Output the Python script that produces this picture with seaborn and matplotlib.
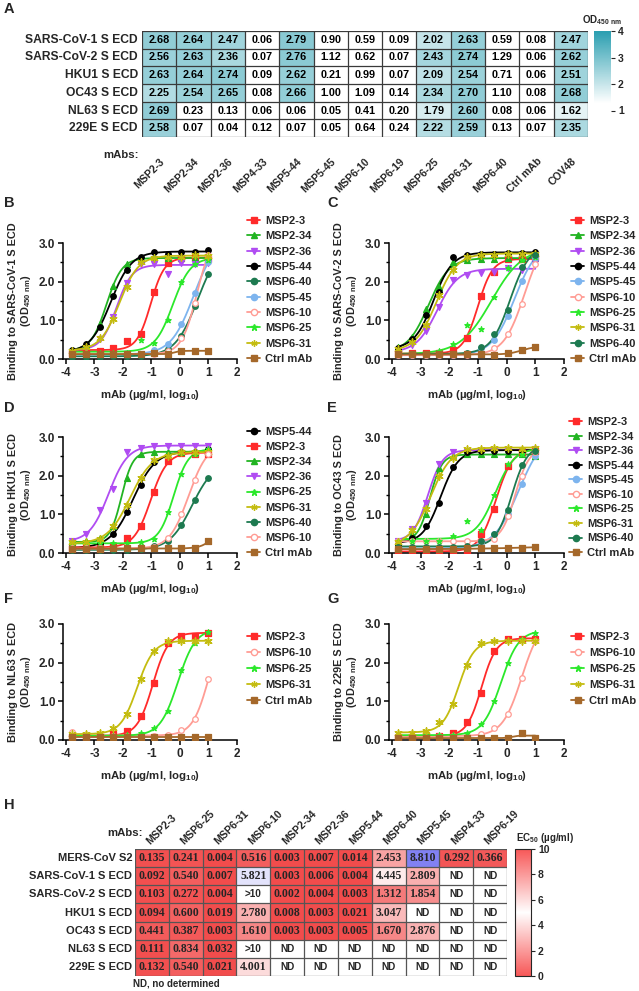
import numpy as np
import pandas as pd
import matplotlib
matplotlib.use("Agg")
import matplotlib.pyplot as plt
import seaborn as sns
from matplotlib.colors import LinearSegmentedColormap, Normalize
from matplotlib.cm import ScalarMappable
from matplotlib.lines import Line2D

# ---------------- DATA ----------------
# Panel A: OD450 heatmap
A_rows = ['SARS-CoV-1 S ECD', 'SARS-CoV-2 S ECD', 'HKU1 S ECD', 'OC43 S ECD', 'NL63 S ECD', '229E S ECD']
A_cols = ['MSP2-3', 'MSP2-34', 'MSP2-36', 'MSP4-33', 'MSP5-44', 'MSP5-45', 'MSP6-10',
          'MSP6-19', 'MSP6-25', 'MSP6-31', 'MSP6-40', 'Ctrl mAb', 'COV48']
A_sars1 = [2.68, 2.64, 2.47, 0.06, 2.79, 0.90, 0.59, 0.09, 2.02, 2.63, 0.59, 0.08, 2.47]
A_sars2 = [2.56, 2.63, 2.36, 0.07, 2.76, 1.12, 0.62, 0.07, 2.43, 2.74, 1.29, 0.06, 2.62]
A_hku1 = [2.63, 2.64, 2.74, 0.09, 2.62, 0.21, 0.99, 0.07, 2.09, 2.54, 0.71, 0.06, 2.51]
A_oc43 = [2.25, 2.54, 2.65, 0.08, 2.66, 1.00, 1.09, 0.14, 2.34, 2.70, 1.10, 0.08, 2.68]
A_nl63 = [2.69, 0.23, 0.13, 0.06, 0.06, 0.05, 0.41, 0.20, 1.79, 2.60, 0.08, 0.06, 1.62]
A_229e = [2.58, 0.07, 0.04, 0.12, 0.07, 0.05, 0.64, 0.24, 2.22, 2.59, 0.13, 0.07, 2.35]

# Panels B-G: binding curves (x = mAb, log10 ug/ml)
conc_log10 = [-3.77, -3.29, -2.82, -2.34, -1.86, -1.38, -0.91, -0.43, 0.05, 0.52, 1.00]

B_msp2_3 = [0.16, 0.17, 0.20, 0.28, 0.46, 0.64, 1.72, 2.47, 2.62, 2.60, 2.58]
B_msp2_34 = [0.22, 0.40, 0.90, 1.90, 2.45, 2.58, 2.62, 2.60, 2.62, 2.62, 2.60]
B_msp2_36 = [0.18, 0.28, 0.52, 1.08, 1.96, 2.45, 2.45, 2.20, 2.48, 2.45, 2.48]
B_msp5_44 = [0.22, 0.38, 0.84, 1.63, 2.31, 2.64, 2.76, 2.72, 2.78, 2.78, 2.82]
B_msp6_40 = [0.06, 0.06, 0.06, 0.07, 0.08, 0.09, 0.16, 0.27, 0.60, 1.36, 2.20]
B_msp5_45 = [0.12, 0.12, 0.12, 0.12, 0.13, 0.14, 0.22, 0.38, 0.90, 1.71, 2.50]
B_msp6_10 = [0.12, 0.12, 0.12, 0.12, 0.12, 0.13, 0.14, 0.20, 0.55, 1.45, 2.70]
B_msp6_25 = [0.15, 0.15, 0.15, 0.15, 0.16, 0.50, 0.42, 1.00, 2.00, 2.45, 2.55]
B_msp6_31 = [0.20, 0.30, 0.55, 1.04, 1.87, 2.50, 2.62, 2.65, 2.65, 2.68, 2.66]
B_ctrl = [0.12, 0.12, 0.12, 0.12, 0.12, 0.14, 0.15, 0.13, 0.21, 0.21, 0.21]

C_msp2_3 = [0.15, 0.15, 0.15, 0.16, 0.22, 0.55, 1.62, 2.25, 2.58, 2.58, 2.64]
C_msp2_34 = [0.30, 0.58, 1.30, 1.85, 2.52, 2.55, 2.58, 2.58, 2.60, 2.62, 2.62]
C_msp2_36 = [0.22, 0.35, 0.72, 1.35, 2.05, 2.18, 2.22, 2.25, 2.35, 2.30, 2.48]
C_msp5_44 = [0.28, 0.52, 1.13, 1.72, 2.65, 2.68, 2.72, 2.72, 2.74, 2.75, 2.77]
C_msp5_45 = [0.10, 0.10, 0.10, 0.10, 0.11, 0.12, 0.28, 0.50, 1.12, 2.03, 2.60]
C_msp6_10 = [0.10, 0.10, 0.10, 0.10, 0.10, 0.10, 0.15, 0.28, 0.65, 1.42, 2.45]
C_msp6_25 = [0.12, 0.12, 0.12, 0.20, 0.38, 0.87, 0.78, 1.60, 2.35, 2.55, 2.65]
C_msp6_31 = [0.25, 0.45, 0.88, 1.65, 2.30, 2.65, 2.70, 2.70, 2.72, 2.72, 2.72]
C_msp6_40 = [0.12, 0.12, 0.12, 0.12, 0.13, 0.15, 0.30, 0.65, 1.28, 2.38, 2.70]
C_ctrl = [0.12, 0.12, 0.12, 0.12, 0.12, 0.12, 0.12, 0.10, 0.15, 0.22, 0.30]

D_msp5_44 = [0.15, 0.16, 0.24, 0.50, 1.07, 1.75, 2.35, 2.45, 2.60, 2.60, 2.70]
D_msp2_3 = [0.12, 0.12, 0.12, 0.15, 0.38, 0.70, 1.58, 2.38, 2.58, 2.55, 2.55]
D_msp2_34 = [0.25, 0.30, 0.38, 0.70, 1.95, 2.55, 2.62, 2.62, 2.62, 2.62, 2.62]
D_msp2_36 = [0.30, 0.50, 1.10, 1.66, 2.60, 2.72, 2.76, 2.76, 2.76, 2.76, 2.76]
D_msp6_25 = [0.25, 0.25, 0.25, 0.25, 0.27, 0.28, 0.35, 1.05, 2.05, 2.55, 2.70]
D_msp6_31 = [0.28, 0.28, 0.35, 0.70, 1.25, 1.95, 2.40, 2.50, 2.60, 2.60, 2.60]
D_msp6_40 = [0.08, 0.08, 0.08, 0.08, 0.08, 0.10, 0.18, 0.32, 0.72, 1.36, 1.95]
D_msp6_10 = [0.12, 0.12, 0.12, 0.12, 0.12, 0.12, 0.15, 0.40, 1.00, 1.88, 2.55]
D_ctrl = [0.10, 0.10, 0.10, 0.12, 0.12, 0.12, 0.12, 0.13, 0.13, 0.14, 0.30]

E_msp2_3 = [0.05, 0.05, 0.05, 0.05, 0.05, 0.05, 0.49, 1.15, 2.25, 2.60, 2.65]
E_msp2_34 = [0.25, 0.50, 1.00, 2.20, 2.52, 2.55, 2.55, 2.55, 2.55, 2.55, 2.50]
E_msp2_36 = [0.30, 0.62, 1.30, 2.30, 2.60, 2.62, 2.65, 2.65, 2.65, 2.65, 2.70]
E_msp5_44 = [0.22, 0.38, 0.69, 1.30, 2.22, 2.60, 2.65, 2.65, 2.65, 2.65, 2.62]
E_msp5_45 = [0.12, 0.12, 0.12, 0.12, 0.12, 0.15, 0.28, 0.48, 1.00, 1.78, 2.50]
E_msp6_10 = [0.32, 0.32, 0.32, 0.32, 0.30, 0.30, 0.30, 0.35, 0.95, 2.00, 2.60]
E_msp6_25 = [0.30, 0.30, 0.30, 0.32, 0.45, 0.82, 0.60, 1.50, 2.30, 2.55, 2.65]
E_msp6_31 = [0.28, 0.60, 1.15, 2.00, 2.45, 2.70, 2.70, 2.72, 2.72, 2.70, 2.72]
E_msp6_40 = [0.15, 0.15, 0.15, 0.15, 0.15, 0.17, 0.30, 0.50, 1.10, 2.28, 2.65]
E_ctrl = [0.10, 0.10, 0.10, 0.10, 0.10, 0.12, 0.12, 0.12, 0.12, 0.14, 0.15]

F_msp2_3 = [0.08, 0.08, 0.09, 0.15, 0.22, 0.62, 1.48, 2.52, 2.70, 2.70, 2.78]
F_msp6_10 = [0.20, 0.12, 0.10, 0.10, 0.10, 0.10, 0.10, 0.12, 0.25, 0.55, 1.58]
F_msp6_25 = [0.10, 0.10, 0.10, 0.10, 0.12, 0.18, 0.32, 0.75, 1.80, 2.50, 2.80]
F_msp6_31 = [0.15, 0.15, 0.18, 0.30, 0.68, 1.58, 2.30, 2.55, 2.55, 2.55, 2.55]
F_ctrl = [0.07, 0.07, 0.07, 0.07, 0.07, 0.07, 0.07, 0.07, 0.07, 0.07, 0.07]

G_msp2_3 = [0.08, 0.08, 0.08, 0.10, 0.18, 0.47, 1.22, 2.30, 2.60, 2.60, 2.60]
G_msp6_10 = [0.10, 0.10, 0.10, 0.10, 0.10, 0.10, 0.15, 0.30, 0.67, 1.60, 2.55]
G_msp6_25 = [0.12, 0.12, 0.12, 0.12, 0.12, 0.18, 0.42, 1.00, 2.00, 2.60, 2.77]
G_msp6_31 = [0.18, 0.18, 0.22, 0.47, 0.94, 1.95, 2.50, 2.55, 2.55, 2.55, 2.55]
G_ctrl = [0.05, 0.05, 0.05, 0.05, 0.05, 0.05, 0.05, 0.05, 0.05, 0.18, 0.05]

# Panel H: EC50 table (ug/ml)
H_rows = ['MERS-CoV S2', 'SARS-CoV-1 S ECD', 'SARS-CoV-2 S ECD', 'HKU1 S ECD',
          'OC43 S ECD', 'NL63 S ECD', '229E S ECD']
H_cols = ['MSP2-3', 'MSP6-25', 'MSP6-31', 'MSP6-10', 'MSP2-34', 'MSP2-36', 'MSP5-44',
          'MSP6-40', 'MSP5-45', 'MSP4-33', 'MSP6-19']
H_mers = ['0.135', '0.241', '0.004', '0.516', '0.003', '0.007', '0.014', '2.453', '8.810', '0.292', '0.366']
H_sars1 = ['0.092', '0.540', '0.007', '5.821', '0.003', '0.006', '0.004', '4.445', '2.809', 'ND', 'ND']
H_sars2 = ['0.103', '0.272', '0.004', '>10', '0.002', '0.004', '0.003', '1.312', '1.854', 'ND', 'ND']
H_hku1 = ['0.094', '0.600', '0.019', '2.780', '0.008', '0.003', '0.021', '3.047', 'ND', 'ND', 'ND']
H_oc43 = ['0.441', '0.387', '0.003', '1.610', '0.003', '0.003', '0.005', '1.670', '2.876', 'ND', 'ND']
H_nl63 = ['0.111', '0.834', '0.032', '>10', 'ND', 'ND', 'ND', 'ND', 'ND', 'ND', 'ND']
H_229e = ['0.132', '0.540', '0.021', '4.001', 'ND', 'ND', 'ND', 'ND', 'ND', 'ND', 'ND']

# ---------------- STYLE ----------------
sns.set_theme(style='ticks')
plt.rcParams['font.family'] = ['Liberation Sans', 'DejaVu Sans']
plt.rcParams['font.weight'] = 'bold'
plt.rcParams['axes.labelweight'] = 'bold'
plt.rcParams['axes.unicode_minus'] = False
plt.rcParams['mathtext.fontset'] = 'custom'
plt.rcParams['mathtext.bf'] = 'Liberation Sans:bold'
plt.rcParams['mathtext.rm'] = 'Liberation Sans:bold'
plt.rcParams['mathtext.default'] = 'bf'

STYLE = {
    'MSP2-3': dict(color='#ff2a2a', marker='s', face='#ff2a2a', s=16),
    'MSP2-34': dict(color='#22b422', marker='^', face='#22b422', s=18),
    'MSP2-36': dict(color='#b04cf2', marker='v', face='#b04cf2', s=18),
    'MSP5-44': dict(color='#000000', marker='o', face='#000000', s=16),
    'MSP6-40': dict(color='#1d7a50', marker='o', face='#1d7a50', s=16),
    'MSP5-45': dict(color='#7db4ee', marker='o', face='#7db4ee', s=16),
    'MSP6-10': dict(color='#ff9c94', marker='o', face='#ffffff', s=16),
    'MSP6-25': dict(color='#2be82b', marker='*', face='#2be82b', s=16),
    'MSP6-31': dict(color='#c4bc10', marker=(6, 2, 0), face='#c4bc10', s=26),
    'Ctrl mAb': dict(color='#a5682a', marker='s', face='#a5682a', s=16),
}

W, H = 639, 991
fig = plt.figure(figsize=(W / 100, H / 100), dpi=100)


def fax(l, t, r, b):
    return fig.add_axes([l / W, 1 - b / H, (r - l) / W, (b - t) / H])


def ftext(x, y, s, **kw):
    return fig.text(x / W, 1 - y / H, s, **kw)


def fit4pl(x, y):
    c = np.linspace(-5.5, 3.0, 341)[:, None, None]
    h = np.linspace(0.4, 4.0, 37)[None, :, None]
    with np.errstate(all='ignore'):
        s = 1.0 / (1.0 + 10 ** ((c - x[None, None, :]) * h))
        a11 = ((1 - s) ** 2).sum(-1)
        a12 = ((1 - s) * s).sum(-1)
        a22 = (s ** 2).sum(-1)
        r1 = ((1 - s) * y).sum(-1)
        r2 = (s * y).sum(-1)
        det = a11 * a22 - a12 ** 2
        b = (a22 * r1 - a12 * r2) / det
        t = (a11 * r2 - a12 * r1) / det
        pred = b[..., None] * (1 - s) + t[..., None] * s
        err = ((pred - y) ** 2).sum(-1)
    bad = (~np.isfinite(err)) | (t > 3.3) | (t < b) | (b < -0.1) | (np.abs(det) < 1e-9)
    err = np.where(bad, np.inf, err)
    if not np.isfinite(err).any():
        return None
    i, j = np.unravel_index(np.argmin(err), err.shape)
    return c[i, 0, 0], h[0, j, 0], b[i, j], t[i, j]


def curve_panel(box, series, target, legend_xy, lspace):
    ax = fax(*box)
    x = np.array(conc_log10)
    for name, vals in series:
        st = STYLE[name]
        y = np.array(vals, dtype=float)
        p = fit4pl(x, y)
        xs = np.linspace(x.min(), x.max(), 240)
        if p is None or (name == 'Ctrl mAb' and np.ptp(y) < 0.02):
            ys = np.interp(xs, x, y)
        else:
            c, hh, b, t = p
            ys = b + (t - b) / (1 + 10 ** ((c - xs) * hh))
        sns.lineplot(x=xs, y=ys, ax=ax, color=st['color'], lw=1.3, zorder=2)
        if st['marker'] == (6, 2, 0):
            sns.scatterplot(x=x, y=y, ax=ax, marker=st['marker'], color=st['color'],
                            s=st['s'], linewidth=1.1, zorder=3, legend=False)
        else:
            sns.scatterplot(x=x, y=y, ax=ax, marker=st['marker'], color=st['face'],
                            edgecolor=st['color'], s=st['s'], linewidth=0.9, zorder=3,
                            legend=False)
    ax.set_xlim(-4.1, 2.0)
    ax.set_ylim(0, 3.0)
    ax.set_xticks(range(-4, 3))
    ax.set_xticklabels([str(v) for v in range(-4, 3)])
    ax.set_yticks([0, 1, 2, 3])
    ax.set_yticklabels(['0.0', '1.0', '2.0', '3.0'])
    ax.set_yticks([0.5, 1.5, 2.5], minor=True)
    sns.despine(ax=ax)
    for sp in ('left', 'bottom'):
        ax.spines[sp].set_linewidth(1.1)
        ax.spines[sp].set_color('black')
    ax.tick_params(axis='both', which='major', labelsize=8.5, width=1.1, length=3.5, pad=2,
                   color='black')
    ax.tick_params(axis='y', which='minor', width=1.0, length=2.2, color='black')
    for lab in ax.get_xticklabels() + ax.get_yticklabels():
        lab.set_fontweight('bold')
    ax.set_ylabel(f"Binding to {target} S ECD\n(OD$_{{450\\ nm}}$)", fontsize=7.8,
                  labelpad=4, linespacing=1.15)
    ax.set_xlabel("mAb (µg/ml, log$_{10}$)", fontsize=8.2, labelpad=7)
    handles = []
    for name, _ in series:
        st = STYLE[name]
        mk = st['marker']
        handles.append(Line2D([0], [0], color=st['color'], lw=1.3, marker=mk,
                              markersize=4.5 if mk != '*' else 5.0,
                              markerfacecolor=st['face'] if mk != (6, 2, 0) else st['color'],
                              markeredgecolor=st['color'], markeredgewidth=1.0,
                              label=name))
    ax.legend(handles=handles, loc='upper left', bbox_to_anchor=(legend_xy[0] / W, 1 - legend_xy[1] / H),
              bbox_transform=fig.transFigure, frameon=False, fontsize=8, handlelength=1.2,
              handletextpad=0.45, labelspacing=lspace, borderpad=0, borderaxespad=0)
    return ax


# ---------------- PANEL A ----------------
dfA = pd.DataFrame([A_sars1, A_sars2, A_hku1, A_oc43, A_nl63, A_229e], index=A_rows, columns=A_cols)
cmapA = LinearSegmentedColormap.from_list('odA', [(0, '#ffffff'), (0.32, '#ffffff'), (1, '#2a9eb0')])
axA = fax(142, 31, 588, 137)
caxA = fax(594, 31, 611, 137)
sns.heatmap(dfA, ax=axA, cmap=cmapA, vmin=0, vmax=4, annot=True, fmt='.2f',
            annot_kws={'size': 7.8, 'weight': 'bold', 'color': 'black'},
            cbar_ax=caxA, cbar_kws={'ticks': [1, 2, 3, 4]}, linewidths=0,
            xticklabels=True, yticklabels=True)
for i in range(len(A_rows) + 1):
    axA.axhline(i, color='#3a3a3a', lw=0.9)
for j in range(len(A_cols) + 1):
    axA.axvline(j, color='#3a3a3a', lw=0.9)
axA.tick_params(length=0, pad=3)
axA.set_yticklabels(A_rows, rotation=0, fontsize=8.7, fontweight='bold')
axA.set_xticklabels(A_cols, rotation=45, ha='right', va='top', rotation_mode='anchor',
                    fontsize=7.6, fontweight='bold')
axA.tick_params(axis='x', pad=14)
axA.set_xlabel('')
axA.set_ylabel('')
caxA.tick_params(labelsize=7.5, length=3, width=0.8, pad=2)
for lab in caxA.get_yticklabels():
    lab.set_fontweight('bold')
ftext(602, 20, "OD$_{450\\ nm}$", fontsize=7, ha='center', va='center')
ftext(103, 155, "mAbs:", fontsize=8.2, ha='left', va='center')

# ---------------- PANELS B-G ----------------
curve_panel((63, 243, 237, 359),
            [('MSP2-3', B_msp2_3), ('MSP2-34', B_msp2_34), ('MSP2-36', B_msp2_36),
             ('MSP5-44', B_msp5_44), ('MSP6-40', B_msp6_40), ('MSP5-45', B_msp5_45),
             ('MSP6-10', B_msp6_10), ('MSP6-25', B_msp6_25), ('MSP6-31', B_msp6_31),
             ('Ctrl mAb', B_ctrl)], 'SARS-CoV-1', (247, 216), 0.48)
curve_panel((389, 243, 564, 359),
            [('MSP2-3', C_msp2_3), ('MSP2-34', C_msp2_34), ('MSP2-36', C_msp2_36),
             ('MSP5-44', C_msp5_44), ('MSP5-45', C_msp5_45), ('MSP6-10', C_msp6_10),
             ('MSP6-25', C_msp6_25), ('MSP6-31', C_msp6_31), ('MSP6-40', C_msp6_40),
             ('Ctrl mAb', C_ctrl)], 'SARS-CoV-2', (571, 216), 0.48)
curve_panel((63, 437, 237, 553),
            [('MSP5-44', D_msp5_44), ('MSP2-3', D_msp2_3), ('MSP2-34', D_msp2_34),
             ('MSP2-36', D_msp2_36), ('MSP6-25', D_msp6_25), ('MSP6-31', D_msp6_31),
             ('MSP6-40', D_msp6_40), ('MSP6-10', D_msp6_10), ('Ctrl mAb', D_ctrl)],
            'HKU1', (247, 427), 0.46)
curve_panel((389, 437, 564, 553),
            [('MSP2-3', E_msp2_3), ('MSP2-34', E_msp2_34), ('MSP2-36', E_msp2_36),
             ('MSP5-44', E_msp5_44), ('MSP5-45', E_msp5_45), ('MSP6-10', E_msp6_10),
             ('MSP6-25', E_msp6_25), ('MSP6-31', E_msp6_31), ('MSP6-40', E_msp6_40),
             ('Ctrl mAb', E_ctrl)], 'OC43', (569, 417), 0.41)
curve_panel((63, 624, 237, 740),
            [('MSP2-3', F_msp2_3), ('MSP6-10', F_msp6_10), ('MSP6-25', F_msp6_25),
             ('MSP6-31', F_msp6_31), ('Ctrl mAb', F_ctrl)], 'NL63', (247, 632), 0.53)
curve_panel((389, 624, 564, 740),
            [('MSP2-3', G_msp2_3), ('MSP6-10', G_msp6_10), ('MSP6-25', G_msp6_25),
             ('MSP6-31', G_msp6_31), ('Ctrl mAb', G_ctrl)], '229E', (571, 632), 0.53)

# ---------------- PANEL H ----------------
H_text = [H_mers, H_sars1, H_sars2, H_hku1, H_oc43, H_nl63, H_229e]


def to_num(s):
    try:
        return float(s)
    except ValueError:
        return np.nan


dfH = pd.DataFrame([[to_num(s) for s in row] for row in H_text], index=H_rows, columns=H_cols)
cmapH = LinearSegmentedColormap.from_list('ecH', ['#f24c4c', '#ffffff', '#5a5aee'])
cmapHbar = LinearSegmentedColormap.from_list('ecHb', ['#f75757', '#ffffff', '#f75757'])
axH = fax(135, 849, 507, 976)
caxH = fax(515, 849, 531, 976)
sns.heatmap(dfH, ax=axH, cmap=cmapH, vmin=0, vmax=10, annot=False, cbar=False, linewidths=0,
            xticklabels=True, yticklabels=True)
axH.set_facecolor('white')
for i, row in enumerate(H_text):
    for j, s in enumerate(row):
        if s in ('ND', '>10'):
            axH.text(j + 0.5, i + 0.5, s, ha='center', va='center', fontsize=7.2,
                     fontweight='bold', family=['Liberation Sans', 'DejaVu Sans'])
        else:
            axH.text(j + 0.5, i + 0.5, s, ha='center', va='center', fontsize=8.5,
                     fontweight='bold', family=['Liberation Serif', 'DejaVu Serif'])
for i in range(len(H_rows) + 1):
    axH.axhline(i, color='#555555', lw=0.9)
for j in range(len(H_cols) + 1):
    axH.axvline(j, color='#555555', lw=0.9)
axH.xaxis.tick_top()
axH.tick_params(length=0, pad=2)
axH.set_yticklabels(H_rows, rotation=0, fontsize=8, fontweight='bold')
axH.set_xticklabels(H_cols, rotation=45, ha='left', va='bottom', rotation_mode='anchor',
                    fontsize=7.6, fontweight='bold')
axH.set_xlabel('')
axH.set_ylabel('')
cbH = fig.colorbar(ScalarMappable(norm=Normalize(0, 10), cmap=cmapHbar), cax=caxH,
                   ticks=[0, 2, 4, 6, 8, 10])
cbH.outline.set_linewidth(0.8)
caxH.tick_params(labelsize=7.5, length=3, width=0.8, pad=2)
for lab in caxH.get_yticklabels():
    lab.set_fontweight('bold')
ftext(516, 838, "EC$_{50}$ (µg/ml)", fontsize=7, ha='left', va='center')
ftext(107, 833, "mAbs:", fontsize=8.2, ha='left', va='center')
ftext(133, 983, "ND, no determined", fontsize=7, ha='left', va='center')

# ---------------- panel letters ----------------
for letter, (lx, ly) in {'A': (4, 9), 'B': (4, 203), 'C': (327, 203), 'D': (4, 408),
                         'E': (327, 408), 'F': (4, 599), 'G': (327, 599),
                         'H': (4, 805)}.items():
    ftext(lx, ly, letter, fontsize=10.5, fontweight='bold', ha='left', va='center')

fig.savefig('out.png', dpi=100)
